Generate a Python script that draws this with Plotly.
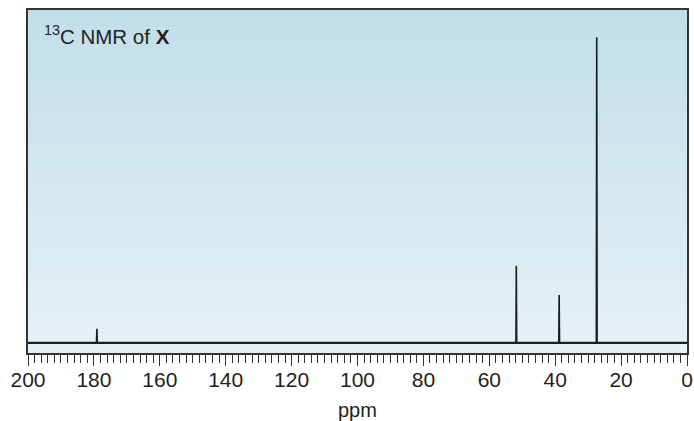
import plotly.graph_objects as go

# Data
peak_ppm = [179.1, 51.8, 38.8, 27.4]
peak_height = [4.6, 25.2, 15.7, 100.0]   # relative intensities (largest = 100)
x_range = [200, 0]
y_range = [-3.3, 108.9]
tick_vals = [200, 180, 160, 140, 120, 100, 80, 60, 40, 20, 0]
tick_text = [str(v) for v in tick_vals]

# Build the stick spectrum from the peak list
xs, ys = [x_range[0]], [0.0]
for p, h in sorted(zip(peak_ppm, peak_height), reverse=True):
    xs += [p + 0.12, p, p - 0.12]
    ys += [0.0, h, 0.0]
xs.append(x_range[1])
ys.append(0.0)

fig = go.Figure()
# noisy-looking baseline (drawn thicker)
fig.add_trace(go.Scatter(x=x_range, y=[0.0, 0.0], mode="lines",
                         line=dict(color="#2a2a2a", width=2.2),
                         hoverinfo="skip", showlegend=False))
fig.add_trace(go.Scatter(x=xs, y=ys, mode="lines",
                         line=dict(color="#1c1c1c", width=1.6),
                         hoverinfo="skip", showlegend=False))

# Vertical gradient background (bands)
top_c = (192, 222, 234)
bot_c = (230, 241, 247)
n = 80
shapes = []
for i in range(n):
    t = i / (n - 1)
    c = tuple(round(top_c[k] + (bot_c[k] - top_c[k]) * t) for k in range(3))
    y1 = 1 - i / n
    y0 = 1 - (i + 1) / n - 0.002
    shapes.append(dict(type="rect", xref="x domain", yref="y domain",
                       x0=0, x1=1, y0=max(y0, 0), y1=y1,
                       fillcolor="rgb(%d,%d,%d)" % c, line=dict(width=0),
                       layer="below"))

fig.update_layout(
    width=694, height=421,
    margin=dict(l=28, r=7, t=10, b=68, autoexpand=False),
    paper_bgcolor="white", plot_bgcolor="white",
    shapes=shapes,
    font=dict(family="Liberation Sans, Arial, sans-serif", color="#231f20"),
    xaxis=dict(range=x_range, tickvals=tick_vals, ticktext=tick_text,
               automargin=False,
               ticks="outside", ticklen=11, tickwidth=1, tickcolor="#333",
               minor=dict(dtick=2, ticks="outside", ticklen=8, tickwidth=1, tickcolor="#333"),
               showline=True, linecolor="#333", linewidth=1.5, mirror=True,
               showgrid=False, zeroline=False,
               ticklabelstandoff=-4,
               tickfont=dict(size=21)),
    yaxis=dict(range=y_range, showticklabels=False, ticks="", automargin=False,
               showline=True, linecolor="#333", linewidth=1.5, mirror=True,
               showgrid=False, zeroline=False),
    annotations=[
        dict(text="<sup>13</sup>C NMR of <b>X</b>",
             xref="paper", yref="paper", x=0.021, y=0.972,
             xanchor="left", yanchor="top", showarrow=False,
             font=dict(size=20.5, color="#231f20")),
        dict(text="ppm", xref="paper", yref="paper", x=0.4995, y=-0.167,
             xanchor="center", yanchor="middle", showarrow=False,
             font=dict(size=20, color="#231f20")),
    ],
)

fig.write_html("out.html", config={"displayModeBar": False},
               post_script="document.body.style.margin='0px';document.body.style.overflow='hidden';")
